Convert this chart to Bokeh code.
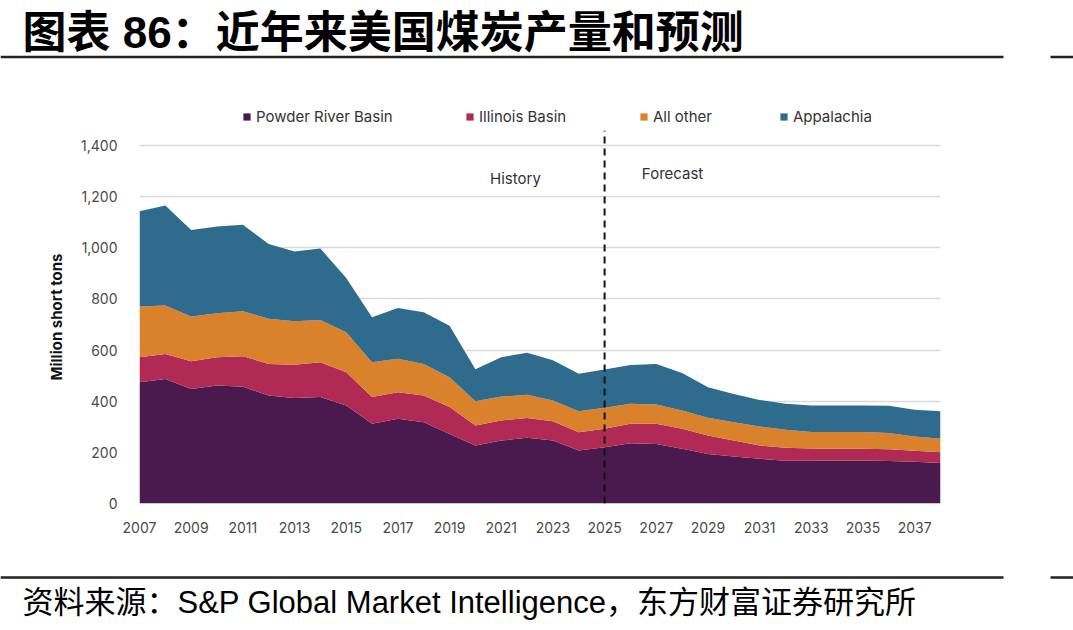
from bokeh.plotting import figure
from bokeh.models import (Range1d, Legend, LegendItem, FixedTicker, Label,
                          NumeralTickFormatter, ColumnDataSource)
from bokeh.layouts import column
from bokeh.embed import file_html
from bokeh.resources import INLINE
from bokeh.core.properties import value

# US coal production by region, million short tons (2025 onward is forecast)
years = list(range(2007, 2039))
powder_river = [474, 487, 448, 461, 457, 422, 413, 416, 383, 312, 331, 318, 272, 227, 246, 257,
                246, 207, 220, 236, 233, 214, 194, 184, 175, 167, 167, 168, 168, 166, 163, 158]
illinois = [98, 98, 108, 111, 119, 124, 130, 136, 130, 104, 104, 104, 105, 78, 79, 77,
            76, 72, 72, 76, 79, 78, 72, 62, 52, 51, 48, 46, 46, 46, 43, 42]
all_other = [198, 189, 175, 172, 176, 176, 170, 166, 157, 136, 131, 124, 117, 95, 93, 91,
             81, 82, 82, 78, 75, 72, 69, 72, 74, 70, 65, 66, 66, 64, 56, 53]
appalachia = [373, 391, 339, 339, 338, 293, 272, 279, 212, 176, 199, 202, 201, 125, 154, 165,
              157, 146, 150, 152, 159, 146, 120, 110, 104, 102, 103, 103, 103, 106, 105, 108]

series_labels = ["Powder River Basin", "Illinois Basin", "All other", "Appalachia"]
series_keys = ["prb", "ilb", "other", "app"]
series_colors = ["#4a1a4f", "#b02a55", "#d9822b", "#2f6b8c"]

y_ticks = [0, 200, 400, 600, 800, 1000, 1200, 1400]
x_ticks = list(range(2007, 2038, 2))
forecast_start = 2025

title_text = "图表 86：近年来美国煤炭产量和预测"
source_text = "资料来源：S&P Global Market Intelligence，东方财富证券研究所"

chart_font = "Inter"
W = 1073


def text_band(height):
    band = figure(width=W, height=height, x_range=Range1d(0, W), y_range=Range1d(height, 0),
                  x_axis_type=None, y_axis_type=None, min_border=0,
                  toolbar_location=None, output_backend="svg")
    band.frame_align = False
    band.outline_line_color = None
    band.grid.visible = False
    return band


# ---- title band with the series key ----
TOP_H = 130
top = text_band(TOP_H)
top.text(x=[22], y=[32], text=[title_text],
         text_font=value("Liberation Sans, Noto Sans CJK SC"), text_font_size="44px",
         text_font_style="bold", text_baseline="middle", text_color="#000000")
top.segment(x0=[0, 1050], y0=[56.5, 56.5], x1=[1003, W], y1=[56.5, 56.5],
            line_width=2.5, line_color="#222222")

# key swatches: area renderers parked off-canvas, sharing the stacked-area fills
key_renderers = [top.varea(x=[-20, -10], y1=[0, 0], y2=[1, 1], fill_color=c)
                 for c in series_colors]
legend_x = [242, 465, 639, 779]
for lab, r, lx in zip(series_labels, key_renderers, legend_x):
    top.add_layout(Legend(items=[LegendItem(label=lab, renderers=[r])],
                          location=(lx, 4), glyph_width=9, glyph_height=9, label_standoff=5,
                          padding=0, margin=0, border_line_color=None, background_fill_alpha=0,
                          label_text_font=chart_font, label_text_font_size="15px",
                          label_text_color="#333333", label_height=16))

# ---- main chart ----
source = ColumnDataSource(dict(year=years, prb=powder_river, ilb=illinois,
                               other=all_other, app=appalachia))

CHART_H = 436
px_per_unit = (503 - 145) / 1400
p = figure(width=W, height=CHART_H, x_range=Range1d(2007, 2038),
           y_range=Range1d(0, 1400 + 15 / px_per_unit),
           min_border_left=139, min_border_right=133, min_border_top=0, min_border_bottom=63,
           toolbar_location=None, output_backend="svg")
p.frame_align = False
p.outline_line_color = None

p.varea_stack(stackers=series_keys, x="year", color=series_colors, source=source)

p.xgrid.visible = False
p.ygrid.ticker = FixedTicker(ticks=y_ticks)
p.ygrid.grid_line_color = "#d9d9d9"
p.ygrid.grid_line_width = 1.5

p.yaxis.ticker = FixedTicker(ticks=y_ticks)
p.yaxis.formatter = NumeralTickFormatter(format="0,0")
p.xaxis.ticker = FixedTicker(ticks=x_ticks)
for ax in (p.xaxis, p.yaxis):
    ax.axis_line_color = None
    ax.major_tick_line_color = None
    ax.minor_tick_line_color = None
    ax.major_label_text_font = chart_font
    ax.major_label_text_font_size = "14px"
    ax.major_label_text_color = "#4a4a4a"
p.yaxis.major_label_standoff = 16
p.xaxis.major_label_standoff = 12
p.yaxis.axis_label = "Million short tons"
p.yaxis.axis_label_text_font = chart_font
p.yaxis.axis_label_text_font_size = "15px"
p.yaxis.axis_label_text_font_style = "bold"
p.yaxis.axis_label_text_color = "#111111"
p.yaxis.axis_label_standoff = 12

# history / forecast divider
p.segment(x0=[forecast_start], y0=[0], x1=[forecast_start], y1=[1400 + 15 / px_per_unit],
          line_color="#111111", line_width=2, line_dash="7 5")
p.add_layout(Label(x=2021.55, y=1271, text="History", text_align="center",
                   text_baseline="middle", text_font=chart_font, text_font_size="15px",
                   text_color="#333333"))
p.add_layout(Label(x=2027.63, y=1290, text="Forecast", text_align="center",
                   text_baseline="middle", text_font=chart_font, text_font_size="15px",
                   text_color="#333333"))

# ---- source band ----
bottom = text_band(64)
bottom.segment(x0=[0, 1050], y0=[11, 11], x1=[1003, W], y1=[11, 11],
               line_width=2.5, line_color="#222222")
bottom.text(x=[22], y=[36], text=[source_text],
            text_font=value("Liberation Sans, Noto Sans CJK SC"), text_font_size="31px",
            text_baseline="middle", text_color="#000000")

layout = column(top, p, bottom, spacing=0)
open("out.html", "w").write(file_html(layout, INLINE))
